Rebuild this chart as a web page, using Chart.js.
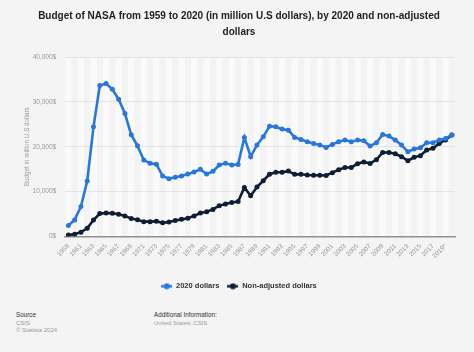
<!DOCTYPE html>
<html>
<head>
<meta charset="utf-8">
<script src="https://cdn.jsdelivr.net/npm/chart.js@4/dist/chart.umd.min.js"></script>
<style>
  html, body { margin: 0; padding: 0; background: #f4f4f4; }
  body { width: 474px; height: 352px; position: relative; overflow: hidden; font-family: "Liberation Sans", Arial, sans-serif; }
  #wrap { position: absolute; left: 0; top: 0; width: 474px; height: 300px; }
  .ft { position: absolute; font-size: 6px; line-height: 7.6px; color: #9a9a9a; }
  .ft b { font-weight: normal; color: #333; font-size: 6.3px; }
</style>
</head>
<body>
<div id="wrap"><canvas id="c"></canvas></div>
<div class="ft" style="left:16px; top:311px;"><b>Source</b><br>CSIS<br>© Statista 2024</div>
<div class="ft" style="left:154px; top:311px;"><b>Additional Information:</b><br>United States; CSIS</div>
<script>
const years = ["1959","1960","1961","1962","1963","1964","1965","1966","1967","1968","1969","1970","1971","1972","1973","1974","1975","1976","1977","1978","1979","1980","1981","1982","1983","1984","1985","1986","1987","1988","1989","1990","1991","1992","1993","1994","1995","1996","1997","1998","1999","2000","2001","2002","2003","2004","2005","2006","2007","2008","2009","2010","2011","2012","2013","2014","2015","2016","2017","2018","2019*","2020*"];
const dollars2020 = [2440,3700,6670,12370,24440,33630,34070,32810,30590,27400,22670,20220,17040,16300,16100,13480,12890,13190,13480,13930,14370,14960,13930,14520,15930,16300,15930,16070,22070,17780,20370,22220,24590,24440,23930,23700,22070,21630,21110,20740,20370,19850,20520,21110,21480,21110,21480,21330,20150,20890,22740,22370,21480,20370,18890,19480,19780,20890,20890,21480,21850,22630];
const nonAdjusted = [331,524,964,1825,3674,5100,5250,5175,4966,4587,3991,3746,3311,3307,3406,3037,3229,3550,3817,4060,4596,5240,5518,6044,6875,7248,7573,7807,10923,9062,11036,12429,13878,14317,14310,14570,13854,13884,13709,13648,13653,13602,14230,14868,15364,15379,16198,16623,16285,17117,18724,18724,18448,17770,16865,17647,18010,19285,19653,20736,21500,22629];
const yTicks = [0,10000,20000,30000,40000];

const BLUE = '#2a77dc';
const NAVY = '#0f1e33';

function legendIcon(color){
  const c = document.createElement('canvas');
  c.width = 11; c.height = 7;
  const g = c.getContext('2d');
  g.strokeStyle = color; g.lineWidth = 2.4;
  g.beginPath(); g.moveTo(0,3.5); g.lineTo(11,3.5); g.stroke();
  g.fillStyle = color;
  g.beginPath(); g.arc(5.5,3.5,3,0,Math.PI*2); g.fill();
  return c;
}
const icons = [legendIcon(BLUE), legendIcon(NAVY)];

const stripes = {
  id: 'stripes',
  beforeDraw(chart){
    const {ctx, chartArea:a, scales:{x}} = chart;
    ctx.save();
    ctx.fillStyle = '#fafafa';
    ctx.fillRect(a.left, a.top, a.right-a.left, a.bottom-a.top);
    const n = years.length;
    const w = (a.right - a.left)/n;
    ctx.fillStyle = '#f3f3f3';
    for (let i = 0; i < n; i++) {
      if (i % 2 === 1) {
        const cx = x.getPixelForValue(i);
        ctx.fillRect(cx - w/2, a.top, w, a.bottom-a.top);
      }
    }
    ctx.restore();
  }
};

new Chart(document.getElementById('c'), {
  type: 'line',
  data: {
    labels: years,
    datasets: [
      { label: '2020 dollars', data: dollars2020, borderColor: BLUE, backgroundColor: BLUE,
        borderWidth: 2.6, pointRadius: 2.5, pointHoverRadius: 2.5, pointBackgroundColor: BLUE, pointBorderWidth: 0, tension: 0 },
      { label: 'Non-adjusted dollars', data: nonAdjusted, borderColor: NAVY, backgroundColor: NAVY,
        borderWidth: 2.6, pointRadius: 2.5, pointHoverRadius: 2.5, pointBackgroundColor: NAVY, pointBorderWidth: 0, tension: 0 }
    ]
  },
  options: {
    responsive: true,
    maintainAspectRatio: false,
    animation: false,
    layout: { padding: { left: 23, right: 19, top: 0, bottom: 0 } },
    plugins: {
      title: {
        display: true,
        text: ['Budget of NASA from 1959 to 2020 (in million U.S dollars), by 2020 and non-adjusted', 'dollars'],
        font: { family: '"Liberation Sans", Arial, sans-serif', size: 10, weight: 'bold', lineHeight: 1.6 },
        color: '#222',
        padding: { top: 8, bottom: 17 }
      },
      legend: {
        position: 'bottom',
        labels: {
          usePointStyle: true,
          pointStyleWidth: 11,
          boxHeight: 7,
          padding: 8,
          color: '#333',
          font: { family: '"Liberation Sans", Arial, sans-serif', size: 7.5, weight: 'bold' },
          generateLabels(chart){
            const items = Chart.defaults.plugins.legend.labels.generateLabels(chart);
            items.forEach((it, i) => { it.pointStyle = icons[i]; });
            return items;
          }
        }
      },
      tooltip: { enabled: false }
    },
    scales: {
      x: {
        offset: true,
        grid: { display: false, drawTicks: false },
        border: { display: true, color: '#8f8f8f', width: 1.5 },
        ticks: {
          autoSkip: false,
          maxRotation: 45, minRotation: 45,
          padding: 6,
          color: '#999',
          font: { family: '"Liberation Sans", Arial, sans-serif', size: 6.5 },
          callback(v, i){ return i % 2 === 0 ? years[i] : ''; }
        },
        afterFit(s){ s.height = 38; }
      },
      y: {
        min: 0, max: 40000,
        afterBuildTicks(s){ s.ticks = yTicks.map(v => ({ value: v })); },
        grid: { color: '#e4e4e4', lineWidth: 1, drawTicks: false },
        border: { display: false },
        ticks: {
          padding: 9,
          color: '#999',
          font: { family: '"Liberation Sans", Arial, sans-serif', size: 6.5 },
          callback(v){ return v.toLocaleString('en-US') + '$'; }
        },
        title: {
          display: true,
          text: 'Budget in million U.S dollars',
          color: '#999',
          font: { family: '"Liberation Sans", Arial, sans-serif', size: 6.3 },
          padding: { top: 0, bottom: 0 }
        },
        afterFit(s){ s.width = 42.2; }
      }
    }
  },
  plugins: [stripes]
});
</script>
</body>
</html>
